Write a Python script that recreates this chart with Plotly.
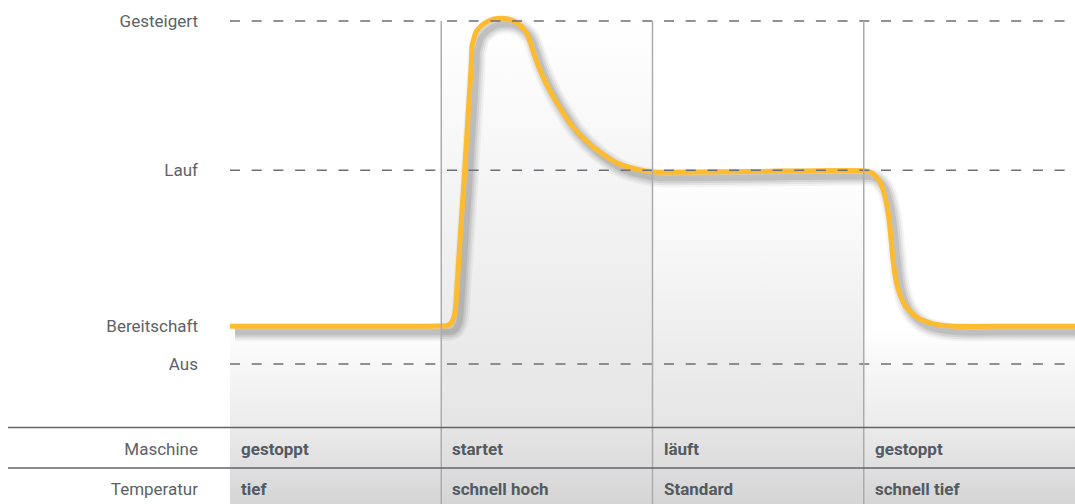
import plotly.graph_objects as go

# ---------------- data ----------------
level_names = ["Gesteigert", "Lauf", "Bereitschaft", "Aus"]
level_values = [100, 56.5, 11, 0]
dashed_levels = [100, 56.5, 0]

row_names = ["Maschine", "Temperatur"]
maschine_states = ["gestoppt", "startet", "läuft", "gestoppt"]
temperatur_states = ["tief", "schnell hoch", "Standard", "schnell tief"]

# phase boundaries (x in phase units 0..4)
phase_bounds = [1, 2, 3]
# level at which the grey shading of each phase starts
phase_shade_top = [11, 100, 56.5, 11]

curve_x = [0.0, 0.33, 0.71, 0.994, 1.027, 1.046, 1.060, 1.0675, 1.072, 1.089, 1.108,
           1.127, 1.1432, 1.1456, 1.1550, 1.1645, 1.1882, 1.2166, 1.2497, 1.2828,
           1.3160, 1.3491, 1.3775, 1.4012, 1.4154, 1.4272, 1.4438, 1.4675, 1.4959,
           1.548, 1.624, 1.718, 1.832, 1.941, 2.002, 2.46, 3.006, 3.039, 3.077,
           3.101, 3.120, 3.134, 3.148, 3.167, 3.195, 3.243, 3.314, 3.408, 3.7, 4.0]
curve_y = [11, 11, 11, 11.05, 11.2, 11.95, 13.7, 16.3, 20.1, 36.2, 53.6,
           72.6, 88.6, 92.7, 95.0, 96.8, 98.5, 99.8, 100.6, 100.8,
           100.6, 99.8, 98.5, 96.8, 94.8, 92.7, 89.5, 85.7, 81.9,
           76.1, 69.1, 63.3, 58.6, 56.6, 56.0, 56.1, 56.3, 55.7, 53.1,
           48.7, 42.0, 33.2, 25.9, 21.0, 17.2, 14.0, 12.0, 11.1, 11, 11]

# ---------------- layout constants ----------------
W, H = 1075, 504
L = 230
PX_PER_UNIT = 3.43
Y_TOP = 364 / PX_PER_UNIT
Y_BOT = -(H - 364) / PX_PER_UNIT
X_PER_PX = 4 / (W - L)


def py(p):
    """pixel row -> y data value"""
    return (364 - p) / PX_PER_UNIT


ROW_Y = [py(449), py(489)]
TABLE_LINES = [427.5, 468]

LABEL_COLOR = "#5c6268"
TEXT_COLOR = "#535a61"
FONT = "Roboto"

fig = go.Figure()

# shaded phase backgrounds
for i, top in enumerate(phase_shade_top):
    pos_table = (py(TABLE_LINES[0]) - Y_BOT) / (top - Y_BOT)
    mid = "#e5e5e5" if top > 20 else "#ebebeb"
    fig.add_trace(go.Scatter(
        x=[i, i + 1, i + 1, i, i], y=[Y_BOT, Y_BOT, top, top, Y_BOT],
        mode="lines", line=dict(width=0), fill="toself",
        fillgradient=dict(type="vertical", start=Y_BOT, stop=top,
                          colorscale=[[0, "#d5d5d5"], [pos_table, mid], [1, "#ffffff"]]),
        hoverinfo="skip", showlegend=False))

shapes = []
# dashed level lines
for lv in dashed_levels:
    shapes.append(dict(type="line", xref="x", yref="y", x0=0, x1=4, y0=lv, y1=lv,
                       line=dict(color="#6b7076", width=1.5, dash="10px,11.7px"), layer="above"))
# vertical phase separators
for b in phase_bounds:
    shapes.append(dict(type="line", xref="x", yref="y", x0=b, x1=b, y0=Y_BOT, y1=level_values[0],
                       line=dict(color="#ababab", width=1.5), layer="above"))
# table lines
for tl in TABLE_LINES:
    yp = (H - tl) / H
    shapes.append(dict(type="line", xref="paper", yref="paper", x0=(8 - L) / (W - L), x1=1,
                       y0=yp, y1=yp, line=dict(color="#5f656b", width=1.5), layer="above"))

# shadow of the curve
dx = 5 * X_PER_PX
dy = -6 / PX_PER_UNIT
for w, a in [(18, 0.05), (14, 0.07), (10, 0.09), (6, 0.11)]:
    fig.add_trace(go.Scatter(
        x=[v + dx for v in curve_x], y=[v + dy for v in curve_y], mode="lines",
        line=dict(color=f"rgba(40,40,40,{a})", width=w, shape="spline", smoothing=0.7),
        hoverinfo="skip", showlegend=False))

# main curve
fig.add_trace(go.Scatter(
    x=curve_x, y=curve_y, mode="lines",
    line=dict(color="#fdbb30", width=5, shape="spline", smoothing=0.7),
    hoverinfo="skip", showlegend=False))

# table texts
annotations = []
for r, states in enumerate([maschine_states, temperatur_states]):
    for i, s in enumerate(states):
        annotations.append(dict(x=i + 9 * X_PER_PX, y=ROW_Y[r], xref="x", yref="y",
                                text=s, showarrow=False, xanchor="left", yanchor="middle",
                                font=dict(family=FONT, size=17, color=TEXT_COLOR, weight=700)))

fig.update_layout(
    width=W, height=H, autosize=False,
    margin=dict(l=L, r=0, t=0, b=0),
    paper_bgcolor="white", plot_bgcolor="white",
    shapes=shapes, annotations=annotations,
    xaxis=dict(range=[0, 4], visible=False, fixedrange=True),
    yaxis=dict(range=[Y_BOT, Y_TOP], showgrid=False, zeroline=False, showline=False,
               tickvals=level_values + ROW_Y, ticktext=level_names + row_names,
               ticks="", ticklabelstandoff=31, fixedrange=True,
               tickfont=dict(family=FONT, size=17, color=LABEL_COLOR, weight=400)),
)

fig.write_html("out.html", config={"displayModeBar": False},
               post_script="document.body.style.margin='0';")
